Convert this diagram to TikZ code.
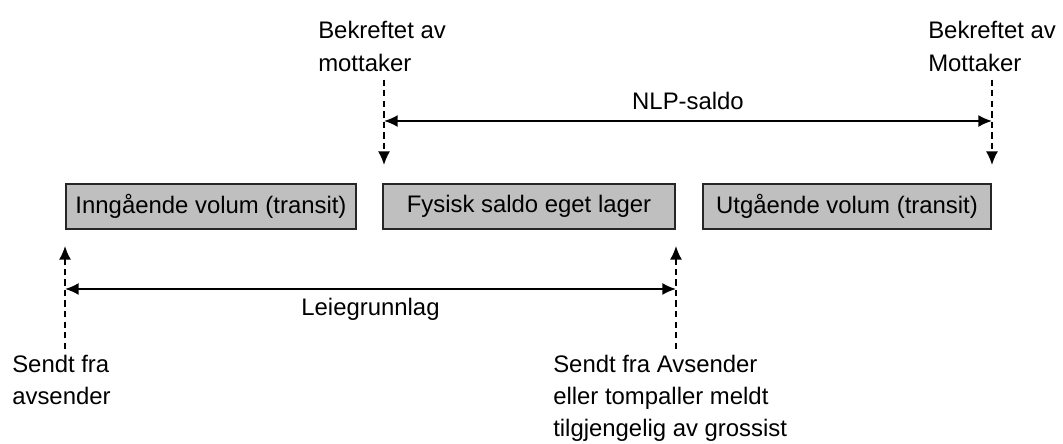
\documentclass[tikz,border=0pt]{standalone}
\usepackage{fontspec}
\setmainfont{Liberation Sans}
\usetikzlibrary{arrows.meta}
\tikzset{
	lager/.style={draw=black!85, line width=1.4pt, fill=black!25, minimum height=1.125cm, inner sep=0pt},
	hendelse/.style={align=left, inner sep=0pt},
	frem/.style={line width=1.2pt, dash pattern=on 4.5pt off 3pt, -{Latex[length=3.4mm,width=3mm]}},
	spenn/.style={line width=1.4pt, {Latex[length=3.4mm,width=3mm]}-{Latex[length=3.4mm,width=3mm]}}
}

\begin{document}
\begin{tikzpicture}[font=\fontsize{17}{22.8}\selectfont]
	\useasboundingbox (0,0) rectangle (26.575,11.075);
	
	\node[lager, minimum width=7.25cm] (inn) at (5.275,5.9125) {Inngående volum (transit)};
	\node[lager, minimum width=7.3cm] (fys) at (13.225,5.9125) {Fysisk saldo eget lager};
	\node[lager, minimum width=7.2cm] (utg) at (21.175,5.9125) {Utgående volum (transit)};
	
	\node[hendelse, anchor=north west] (bekr1) at (7.95,10.54) {Bekreftet av\\mottaker};
	\node[hendelse, anchor=north west] (bekr2) at (23.2,10.54) {Bekreftet av\\Mottaker};
	\node[hendelse, anchor=north west] (sendt1) at (0.3,2.2) {Sendt fra\\avsender};
	\node[hendelse, anchor=north west] (sendt2) at (13.825,2.2) {Sendt fra Avsender\\eller tompaller meldt\\tilgjengelig av grossist};
	
	\coordinate (m1) at ([xshift=0.5mm,yshift=4.5mm]fys.north west);
	\coordinate (m2) at ([yshift=4.5mm]utg.north east);
	\coordinate (s1) at ([yshift=-4mm]inn.south west);
	\coordinate (s2) at ([yshift=-4mm]fys.south east);
	
	\draw[frem] ([yshift=-2mm]bekr1.south -| m1) -- (m1);
	\draw[frem] ([yshift=-2mm]bekr2.south -| m2) -- (m2);
	\draw[frem] ([yshift=1.5mm]sendt1.north -| s1) -- (s1);
	\draw[frem] ([yshift=1.5mm]sendt2.north -| s2) -- (s2);
	
	\coordinate (n1) at ([yshift=11mm]m1);
	\coordinate (n2) at ([yshift=11mm]m2);
	\coordinate (l1) at ([yshift=-10.75mm]s1);
	\coordinate (l2) at ([yshift=-10.75mm]s2);
	
	\draw[spenn] (n1) -- node[above=2.5mm, inner sep=0pt] (nlp) {NLP-saldo} (n2);
	\draw[spenn] (l1) -- node[below=2mm, inner sep=0pt] (leie) {Leiegrunnlag} (l2);
\end{tikzpicture}
\end{document}
